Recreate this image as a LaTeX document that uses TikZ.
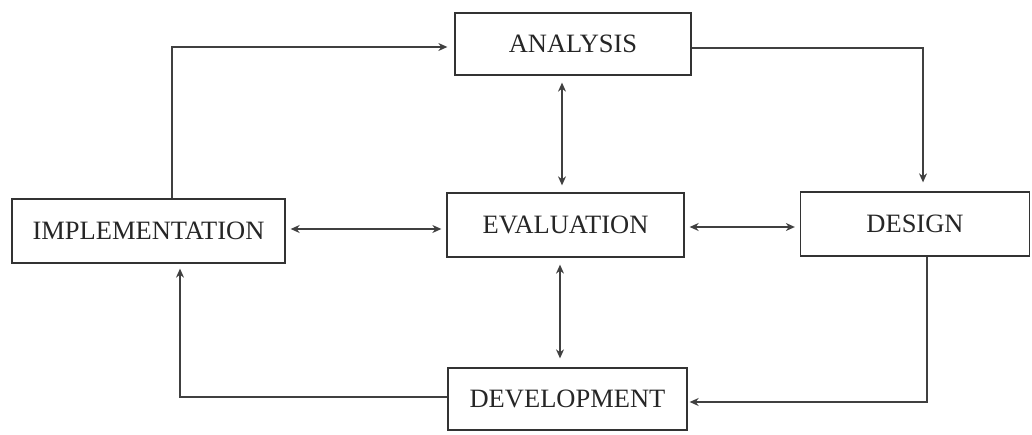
\documentclass[tikz,border=0pt]{standalone}
\usepackage{fontspec}
\setmainfont{Liberation Serif}
\usetikzlibrary{arrows.meta,calc}
\tikzset{
  box/.style={draw=black!80, line width=1.3pt, fill=white, inner sep=0pt,
    font=\fontsize{26.5}{29}\selectfont, text=black!85},
  arr/.style={draw=black!75, line width=1.2pt, -{Stealth[length=9pt,width=8pt]}},
  darr/.style={draw=black!75, line width=1.2pt, {Stealth[length=9pt,width=8pt]}-{Stealth[length=9pt,width=8pt]}},
}
\begin{document}
\begin{tikzpicture}[x=1pt,y=-1pt]
\useasboundingbox (0,0) rectangle (1032,435);
\fill[white] (0,0) rectangle (1032,435);
% boxes
\node[box, minimum width=236pt, minimum height=62pt] (ana) at (573,44) {ANALYSIS};
\node[box, minimum width=273pt, minimum height=64pt] (impl) at (148.5,231) {IMPLEMENTATION};
\node[box, minimum width=237pt, minimum height=64pt] (eval) at (565.5,225) {EVALUATION};
\node[box, minimum width=229pt, minimum height=64pt] (des) at (915,224) {DESIGN};
\node[box, minimum width=239pt, minimum height=62pt] (dev) at (567.5,399) {DEVELOPMENT};
% helper coordinates
\coordinate (xa) at (172,0);
\coordinate (ya) at (0,47);
\coordinate (xb) at (923,0);
\coordinate (yb) at (0,48);
\coordinate (xc) at (562,0);
\coordinate (xd) at (180,0);
\coordinate (yd) at (0,397);
\coordinate (xe) at (927,0);
\coordinate (ye) at (0,402);
\coordinate (xf) at (560,0);
\coordinate (yg) at (0,229);
\coordinate (yh) at (0,227);
% connectors
\draw[arr, shorten >=7pt] (impl.north -| xa) |- (ana.west |- ya);
\draw[arr, shorten >=9pt] (ana.east |- yb) -| (des.north -| xb);
\draw[darr, shorten >=7pt, shorten <=7pt] (ana.south -| xc) -- (eval.north -| xc);
\draw[darr, shorten >=5pt, shorten <=5pt] (impl.east |- yg) -- (eval.west |- yg);
\draw[darr, shorten >=5pt, shorten <=5pt] (eval.east |- yh) -- (des.west |- yh);
\draw[darr, shorten >=9pt, shorten <=7pt] (eval.south -| xf) -- (dev.north -| xf);
\draw[arr, shorten >=5pt] (dev.west |- yd) -| (impl.south -| xd);
\draw[arr, shorten >=2pt] (des.south -| xe) |- (dev.east |- ye);
\end{tikzpicture}
\end{document}
